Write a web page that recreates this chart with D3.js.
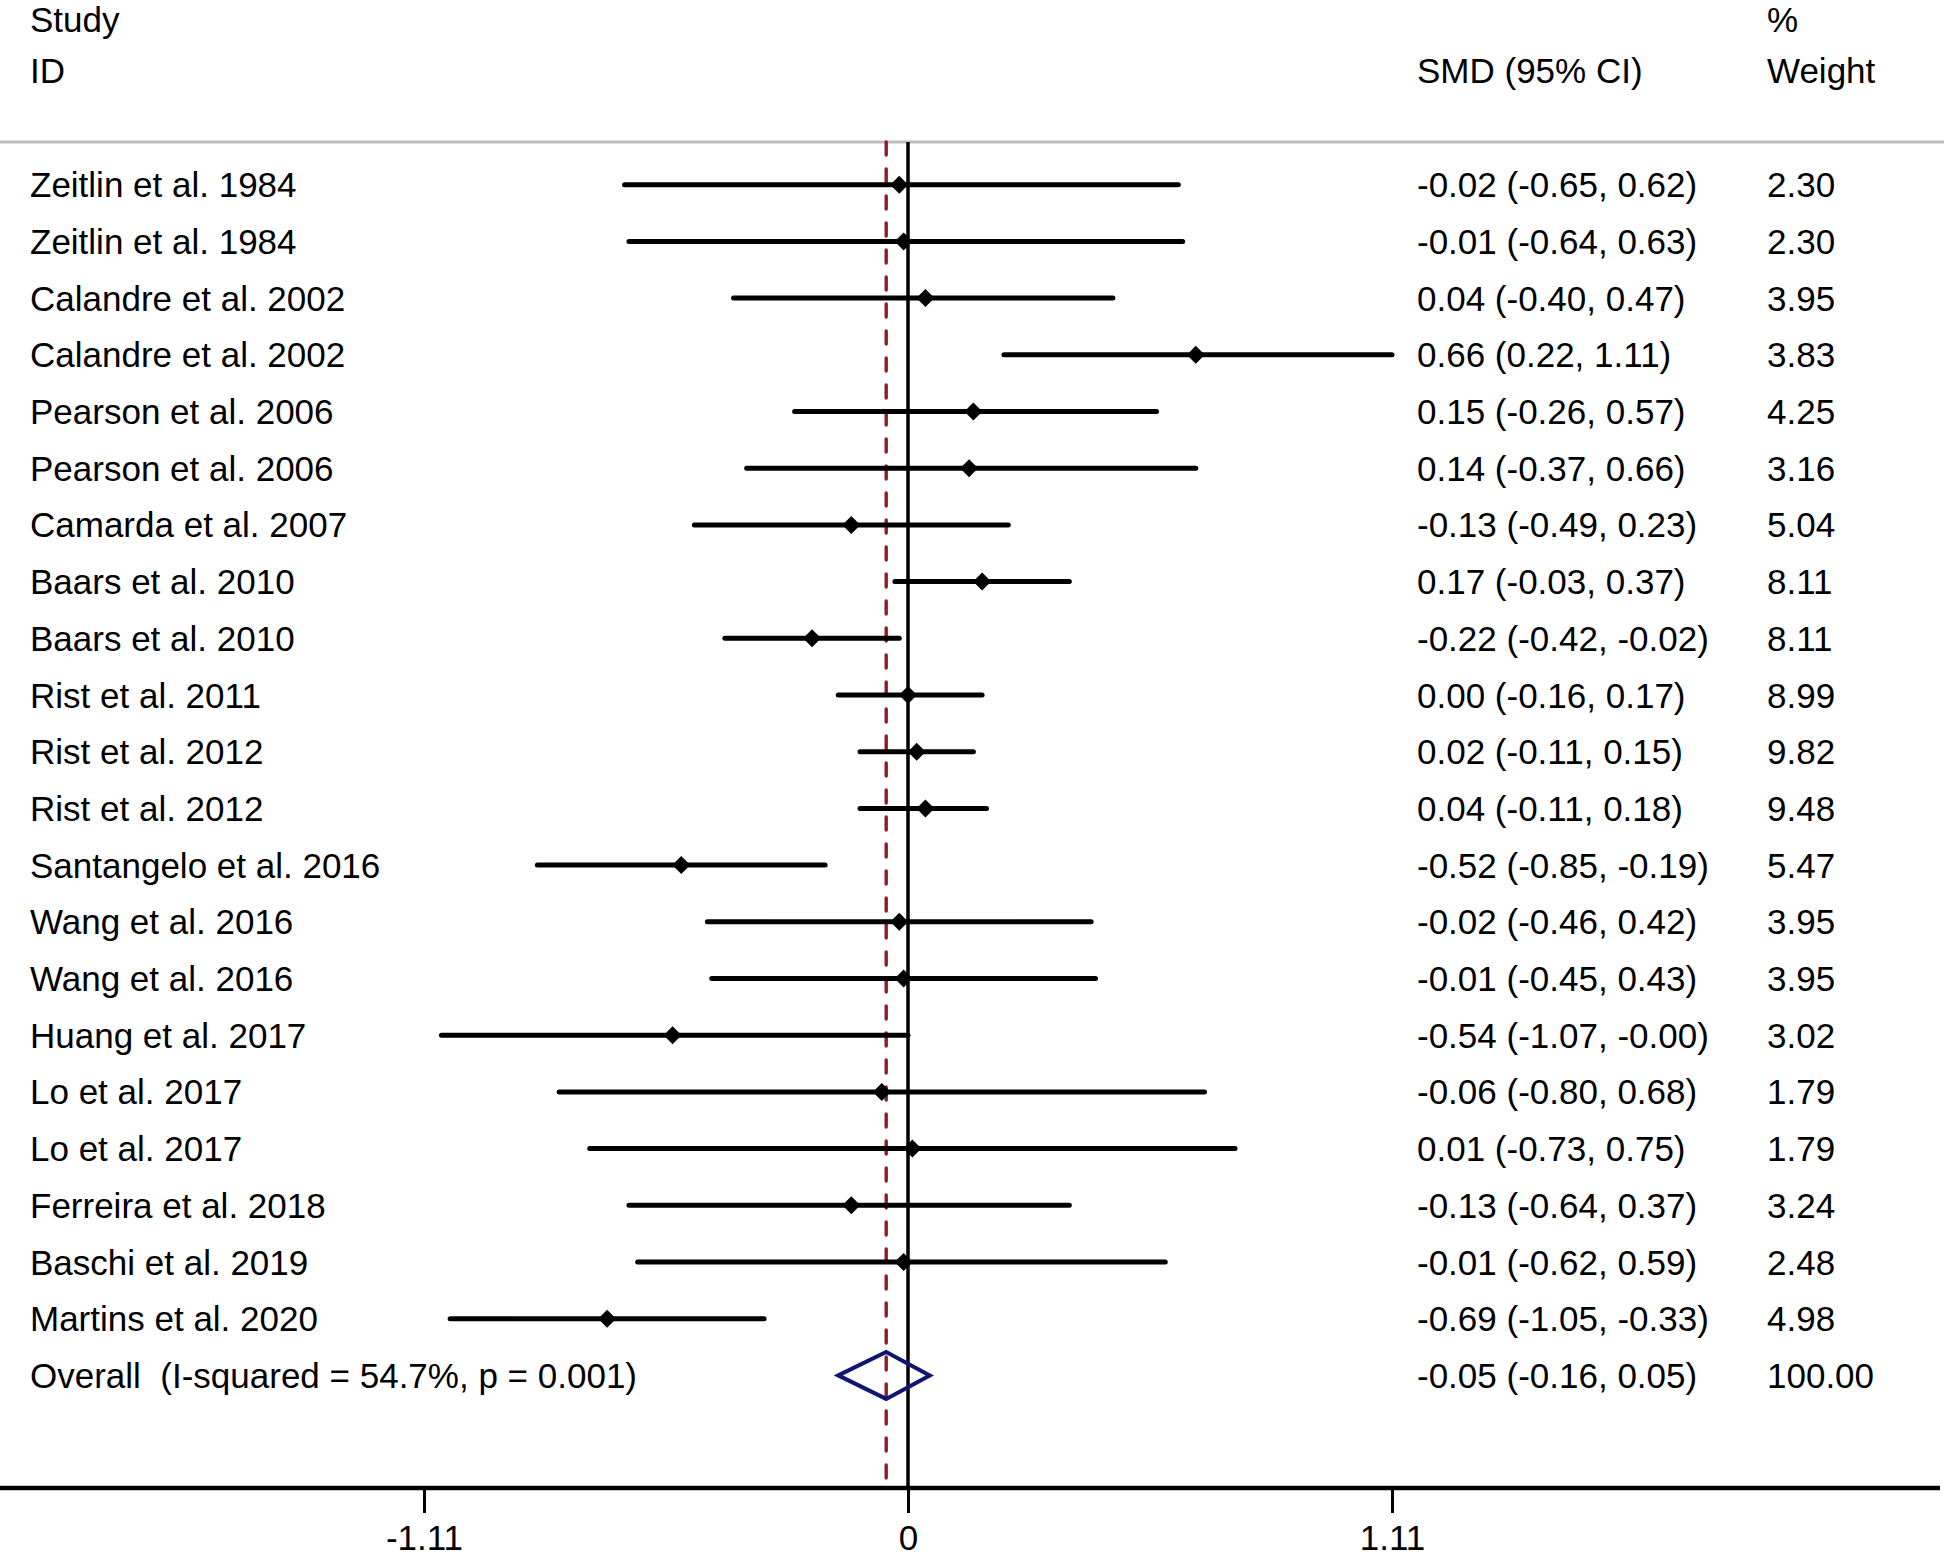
<!DOCTYPE html>
<html>
<head>
<meta charset="utf-8">
<script src="https://cdn.jsdelivr.net/npm/d3@7"></script>
<style>
  html, body { margin: 0; padding: 0; background: #fff; }
  svg { display: block; }
  text { font-family: "Liberation Sans", Arial, sans-serif; font-size: 35px; fill: #000; white-space: pre; }
</style>
</head>
<body>
<svg id="chart" width="1944" height="1558"></svg>
<script>
// ---- data ----
const studies = [
  "Zeitlin et al. 1984", "Zeitlin et al. 1984", "Calandre et al. 2002", "Calandre et al. 2002",
  "Pearson et al. 2006", "Pearson et al. 2006", "Camarda et al. 2007", "Baars et al. 2010",
  "Baars et al. 2010", "Rist et al. 2011", "Rist et al. 2012", "Rist et al. 2012",
  "Santangelo et al. 2016", "Wang et al. 2016", "Wang et al. 2016", "Huang et al. 2017",
  "Lo et al. 2017", "Lo et al. 2017", "Ferreira et al. 2018", "Baschi et al. 2019",
  "Martins et al. 2020"
];
const smd   = [-0.02, -0.01, 0.04, 0.66, 0.15, 0.14, -0.13, 0.17, -0.22, 0.00, 0.02, 0.04, -0.52, -0.02, -0.01, -0.54, -0.06, 0.01, -0.13, -0.01, -0.69];
const lower = [-0.65, -0.64, -0.40, 0.22, -0.26, -0.37, -0.49, -0.03, -0.42, -0.16, -0.11, -0.11, -0.85, -0.46, -0.45, -1.07, -0.80, -0.73, -0.64, -0.62, -1.05];
const upper = [0.62, 0.63, 0.47, 1.11, 0.57, 0.66, 0.23, 0.37, -0.02, 0.17, 0.15, 0.18, -0.19, 0.42, 0.43, -0.00, 0.68, 0.75, 0.37, 0.59, -0.33];
const weight = [2.30, 2.30, 3.95, 3.83, 4.25, 3.16, 5.04, 8.11, 8.11, 8.99, 9.82, 9.48, 5.47, 3.95, 3.95, 3.02, 1.79, 1.79, 3.24, 2.48, 4.98];

const overallLabel = "Overall  (I-squared = 54.7%, p = 0.001)";
const overallSmd = -0.05, overallLower = -0.16, overallUpper = 0.05, overallWeight = 100.00;

const tickValues = [-1.11, 0, 1.11];
const tickLabels = ["-1.11", "0", "1.11"];

// ---- layout ----
const W = 1944, H = 1558;
const svg = d3.select("#chart");
// keeps the sign of negative zero (e.g. "-0.00") and uses a plain hyphen
const f2 = v => ((v < 0 || Object.is(v, -0)) ? "-" : "") + Math.abs(v).toFixed(2);

const x = d3.scaleLinear().domain([-1.11, 1.11]).range([424, 1392]);
const nRows = studies.length + 1;
const y = d3.scaleLinear().domain([0, nRows - 1]).range([184.7, 184.7 + (nRows - 1) * 56.7]);

const topY = 142, axisY = 1488;
const colLabel = 30, colSmd = 1417, colW = 1767;

// header
const hdr = svg.append("g");
hdr.append("text").attr("x", colLabel).attr("y", 32).text("Study");
hdr.append("text").attr("x", colLabel).attr("y", 83).text("ID");
hdr.append("text").attr("x", colSmd).attr("y", 83).text("SMD (95% CI)");
hdr.append("text").attr("x", colW).attr("y", 32).text("%");
hdr.append("text").attr("x", colW).attr("y", 83).text("Weight");
svg.append("line").attr("x1", 0).attr("x2", W).attr("y1", topY).attr("y2", topY)
  .attr("stroke", "#bdbdbd").attr("stroke-width", 3);

// overall dashed line
svg.append("line").attr("x1", x(overallSmd)).attr("x2", x(overallSmd))
  .attr("y1", topY).attr("y2", axisY)
  .attr("stroke", "#8e1c22").attr("stroke-width", 3.4)
  .attr("stroke-dasharray", "13,14").attr("stroke-linecap", "round");

// CI lines
const rows = studies.map((s, i) => ({s, e: smd[i], lo: lower[i], hi: upper[i], w: weight[i], i}));
svg.append("g").selectAll("line").data(rows).join("line")
  .attr("x1", d => x(d.lo)).attr("x2", d => x(d.hi))
  .attr("y1", d => y(d.i)).attr("y2", d => y(d.i))
  .attr("stroke", "#000").attr("stroke-width", 5).attr("stroke-linecap", "round");

// null line
svg.append("line").attr("x1", x(0)).attr("x2", x(0)).attr("y1", topY).attr("y2", axisY)
  .attr("stroke", "#000").attr("stroke-width", 3.5);

// point markers (diamonds)
const ms = 9;
svg.append("g").selectAll("path").data(rows).join("path")
  .attr("d", d => {
    const cx = x(d.e), cy = y(d.i);
    return `M${cx - ms},${cy}L${cx},${cy - ms}L${cx + ms},${cy}L${cx},${cy + ms}Z`;
  })
  .attr("fill", "#000");

// overall diamond
const oy = y(nRows - 1), dh = 23.5;
svg.append("path")
  .attr("d", `M${x(overallLower)},${oy}L${x(overallSmd)},${oy - dh}L${x(overallUpper)},${oy}L${x(overallSmd)},${oy + dh}Z`)
  .attr("fill", "none").attr("stroke", "#111470").attr("stroke-width", 4).attr("stroke-linejoin", "miter");

// row text
const txt = svg.append("g");
rows.forEach(d => {
  const ty = y(d.i) + 12.5;
  txt.append("text").attr("x", colLabel).attr("y", ty).text(d.s);
  txt.append("text").attr("x", colSmd).attr("y", ty).text(`${f2(d.e)} (${f2(d.lo)}, ${f2(d.hi)})`);
  txt.append("text").attr("x", colW).attr("y", ty).text(f2(d.w));
});
{
  const ty = oy + 12.5;
  txt.append("text").attr("x", colLabel).attr("y", ty).text(overallLabel);
  txt.append("text").attr("x", colSmd).attr("y", ty).text(`${f2(overallSmd)} (${f2(overallLower)}, ${f2(overallUpper)})`);
  txt.append("text").attr("x", colW).attr("y", ty).text(f2(overallWeight));
}

// axis
svg.append("line").attr("x1", 0).attr("x2", W - 4).attr("y1", axisY).attr("y2", axisY)
  .attr("stroke", "#000").attr("stroke-width", 4.3);
const axis = d3.axisBottom(x).tickValues(tickValues).tickFormat((d, i) => tickLabels[i])
  .tickSize(25).tickPadding(12);
const ag = svg.append("g").attr("transform", `translate(0,${axisY})`).call(axis);
ag.select(".domain").remove();
ag.selectAll(".tick line").attr("stroke", "#000").attr("stroke-width", 3);
ag.selectAll(".tick text").attr("font-family", null).attr("font-size", null)
  .style("font-family", "'Liberation Sans', Arial, sans-serif").style("font-size", "35px").attr("fill", "#000");
</script>
</body>
</html>
